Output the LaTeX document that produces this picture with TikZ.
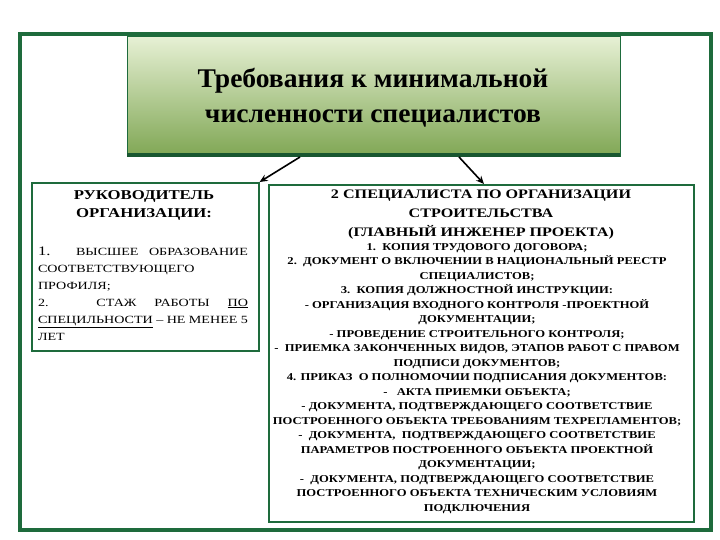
\documentclass[tikz,border=0pt]{standalone}
\usepackage{fontspec}
\setmainfont{Liberation Serif}
\usetikzlibrary{arrows.meta}
\definecolor{frame}{HTML}{1E6B3C}
\definecolor{gtop}{HTML}{E6F0D4}
\definecolor{gbot}{HTML}{7FA653}
\begin{document}
\begin{tikzpicture}[x=1pt,y=-1pt,
  box/.style={draw=frame,line width=1.6pt},
  arr/.style={-{Stealth[length=8pt,width=7pt]},line width=1.6pt}]
\useasboundingbox (0,0) rectangle (720,540);
\draw[frame,line width=4pt] (20,34) rectangle (711,530);
\shade[top color=gtop,bottom color=gbot] (127,37) rectangle (620,157);
\draw[frame,line width=1pt] (127,37) rectangle (620,157);
\fill[frame!80!black] (127,153) rectangle (620,157);
\node[font=\bfseries\fontsize{27}{35}\selectfont,align=center,xscale=1.02] (top) at (373,98) {Требования к минимальной\\численности специалистов};
\node[box,minimum width=227pt,minimum height=168pt,anchor=north west] (left) at (31,182) {};
\node[box,minimum width=425pt,minimum height=337pt,anchor=north west] (right) at (268,184) {};
\node[font=\bfseries\fontsize{13.5}{18}\selectfont,align=center,anchor=north,xscale=1.24] at (144,187) {РУКОВОДИТЕЛЬ\\ОРГАНИЗАЦИИ:};
\node[font=\fontsize{11}{17}\selectfont,text width=164pt,align=justify,anchor=north,xscale=1.28] at (143,243)
{{\fontsize{13}{17}\selectfont 1.} ВЫСШЕЕ ОБРАЗОВАНИЕ СООТВЕТСТВУЮЩЕГО\\ПРОФИЛЯ;\\2. СТАЖ РАБОТЫ \underline{ПО} \underline{СПЕЦИЛЬНОСТИ} – НЕ МЕНЕЕ 5 ЛЕТ};
\node[font=\bfseries\fontsize{13}{19}\selectfont,align=center,anchor=north,xscale=1.24] at (481,186) {2 СПЕЦИАЛИСТА ПО ОРГАНИЗАЦИИ\\СТРОИТЕЛЬСТВА\\(ГЛАВНЫЙ ИНЖЕНЕР ПРОЕКТА)};
\node[font=\bfseries\fontsize{10.5}{14.5}\selectfont,align=center,anchor=north,xscale=1.2] at (477,240) {1.\ \ КОПИЯ ТРУДОВОГО ДОГОВОРА;\\2.\ \ ДОКУМЕНТ О ВКЛЮЧЕНИИ В НАЦИОНАЛЬНЫЙ РЕЕСТР\\СПЕЦИАЛИСТОВ;\\3.\ \ КОПИЯ ДОЛЖНОСТНОЙ ИНСТРУКЦИИ:\\- ОРГАНИЗАЦИЯ ВХОДНОГО КОНТРОЛЯ -ПРОЕКТНОЙ\\ДОКУМЕНТАЦИИ;\\- ПРОВЕДЕНИЕ СТРОИТЕЛЬНОГО КОНТРОЛЯ;\\-\ \ ПРИЕМКА ЗАКОНЧЕННЫХ ВИДОВ, ЭТАПОВ РАБОТ С ПРАВОМ\\ПОДПИСИ ДОКУМЕНТОВ;\\4. ПРИКАЗ\ \ О ПОЛНОМОЧИИ ПОДПИСАНИЯ ДОКУМЕНТОВ:\\-\ \ \ АКТА ПРИЕМКИ ОБЪЕКТА;\\- ДОКУМЕНТА, ПОДТВЕРЖДАЮЩЕГО СООТВЕТСТВИЕ\\ПОСТРОЕННОГО ОБЪЕКТА ТРЕБОВАНИЯМ ТЕХРЕГЛАМЕНТОВ;\\-\ \ ДОКУМЕНТА,\ \ ПОДТВЕРЖДАЮЩЕГО СООТВЕТСТВИЕ\\ПАРАМЕТРОВ ПОСТРОЕННОГО ОБЪЕКТА ПРОЕКТНОЙ\\ДОКУМЕНТАЦИИ;\\-\ \ ДОКУМЕНТА, ПОДТВЕРЖДАЮЩЕГО СООТВЕТСТВИЕ\\ПОСТРОЕННОГО ОБЪЕКТА ТЕХНИЧЕСКИМ УСЛОВИЯМ\\ПОДКЛЮЧЕНИЯ};
\coordinate (s1) at (300,157);
\coordinate (s2) at (459,157);
\draw[arr] (s1) -- (left.north east);
\draw[arr] (s2) -- (484,184);
\end{tikzpicture}
\end{document}
